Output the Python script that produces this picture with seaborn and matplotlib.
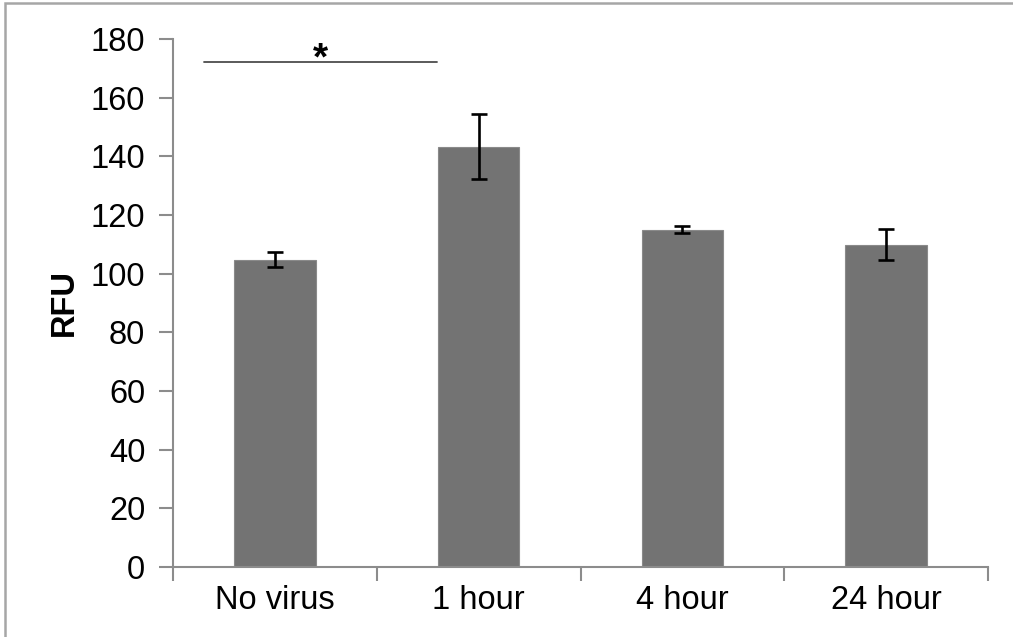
import matplotlib
matplotlib.use("Agg")
import matplotlib.pyplot as plt
import matplotlib.patches as mpatches
import seaborn as sns
import pandas as pd

# Mean fluorescence per time point and its error
categories = ["No virus", "1 hour", "4 hour", "24 hour"]
rfu_mean = [104.8, 143.3, 114.9, 109.9]
rfu_err = [2.5, 11.0, 1.2, 5.4]
y_ticks = [0, 20, 40, 60, 80, 100, 120, 140, 160, 180]

# Significance bracket between the first two groups
sig_span = (-0.348, 0.796)
sig_level = 172
sig_label = "*"

sns.set_theme(style="white")
plt.rcParams["font.family"] = ["Liberation Sans", "DejaVu Sans"]

df = pd.DataFrame({"group": categories, "rfu": rfu_mean})

fig = plt.figure(figsize=(10.13, 6.37), dpi=100)
ax = fig.add_axes([173 / 1013, 1 - 567 / 637, (988 - 173) / 1013, (567 - 39) / 637])

sns.barplot(data=df, x="group", y="rfu", order=categories, color="#737373",
            saturation=1, width=0.4, errorbar=None, ax=ax,
            edgecolor="#8a8a8a", linewidth=0.8)

ax.errorbar(range(len(categories)), rfu_mean, yerr=rfu_err, fmt="none",
            ecolor="black", elinewidth=1.9, capsize=5.8, capthick=1.9, zorder=5)

axis_grey = "#8c8c8c"
label_size = 23.5
ax.set_xlim(-0.5, len(categories) - 0.5)
ax.set_ylim(0, 180)
ax.set_yticks(y_ticks)
ax.set_yticklabels([str(v) for v in y_ticks], fontsize=label_size, color="black")

# Category labels at bar centres, tick marks on group boundaries
ax.set_xticks([i - 0.5 for i in range(len(categories) + 1)])
ax.set_xticklabels([])
ax.set_xticks(range(len(categories)), minor=True)
ax.set_xticklabels(categories, minor=True, fontsize=label_size, color="black")
ax.tick_params(axis="x", which="major", direction="out", length=10, width=1.5,
               color=axis_grey, bottom=True)
ax.tick_params(axis="x", which="minor", length=0, pad=13)
ax.tick_params(axis="y", direction="out", length=10, width=1.5,
               color=axis_grey, left=True, pad=10)

for side in ["top", "right"]:
    ax.spines[side].set_visible(False)
for side in ["left", "bottom"]:
    ax.spines[side].set_color(axis_grey)
    ax.spines[side].set_linewidth(1.5)

ax.set_xlabel("")
ax.set_ylabel("RFU", fontsize=label_size, fontweight="bold", labelpad=8,
              color="black")

ax.plot(sig_span, [sig_level, sig_level], color="#4d4d4d", lw=1.3, clip_on=False)
ax.text(sum(sig_span) / 2, sig_level + 1.0, sig_label, ha="center", va="center",
        fontsize=28, fontweight="bold", color="black")

# Frame around the panel
frame = mpatches.Rectangle((5 / 1013, -0.1), 1.2, 1.1 - 3 / 637,
                           transform=fig.transFigure, fill=False,
                           edgecolor="#a6a6a6", linewidth=1.8, clip_on=False)
fig.patches.append(frame)

fig.savefig("out.png", dpi=100, facecolor="white")
